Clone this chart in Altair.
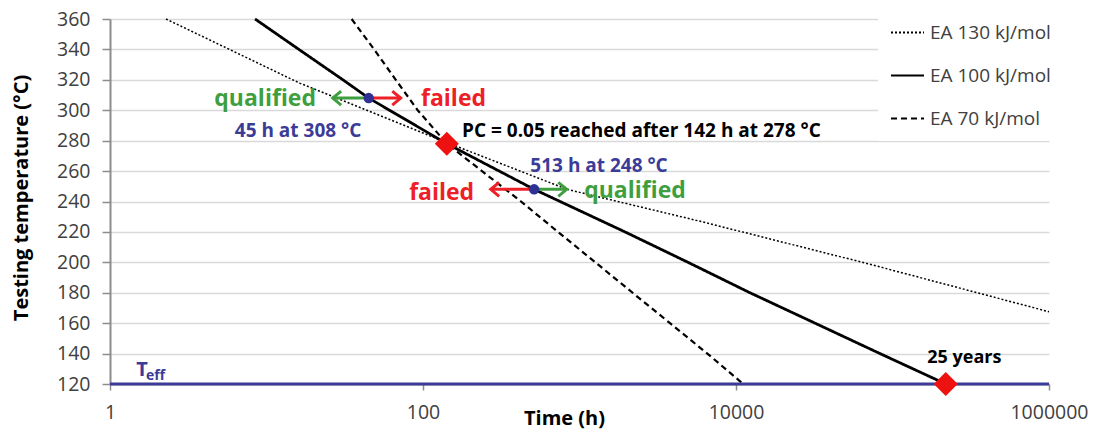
import altair as alt
import pandas as pd

FONT = "Open Sans"

# ---------------- data ----------------
series_names = ["EA 130 kJ/mol", "EA 100 kJ/mol", "EA 70 kJ/mol"]

ea130_hours = [2.28, 16.4, 140, 833, 5900, 68400, 1000000]
ea130_temp = [360, 317.7, 279, 248, 227, 199.3, 167.5]

ea100_hours = [8.45, 16.1, 30.8, 45, 142, 513, 1954, 4936, 12280, 31990, 83200, 219000]
ea100_temp = [360, 340, 320, 308, 278, 248, 220, 200, 180, 160, 140, 120]

ea70_hours = [35, 48.7, 67, 92.5, 142, 423, 729, 1262, 2184, 3786, 6560, 11130]
ea70_temp = [360, 340, 320, 300, 278, 240, 220, 200, 180, 160, 140, 120]

x_ticks = [1, 100, 10000, 1000000]
y_ticks = [120, 140, 160, 180, 200, 220, 240, 260, 280, 300, 320, 340, 360]

test_hours = [45, 513]
test_temp = [308, 248]

marker_hours = [142, 219000]
marker_temp = [278, 120]

teff_temp = [120]
teff_span = [1, 1000000]

arrow_from = [45, 45, 513, 513]
arrow_to = [26.5, 72, 271, 828]
arrow_temp = [308, 308, 248, 248]
arrow_dir = ["left", "right", "left", "right"]

ann_text = ["qualified", "failed", "45 h at 308 °C", "513 h at 248 °C",
            "failed", "qualified", "25 years", "T", "eff"]
ann_hours = [9.8, 156.7, 15.9, 1333, 131.6, 2263, 288000, 1.60, 1.953]
ann_temp = [307.5, 307.5, 286.2, 263.3, 245.6, 246.6, 137.4, 129.4, 125.4]

pc_text = ["PC = 0.05 reached after 142 h at 278 °C"]
pc_hours = [177.5]
pc_temp = [286.2]

# ---------------- styles ----------------
GREEN = "#3f9f3f"
RED = "#ee2027"
BLUE = "#3b3b98"
DOT_BLUE = "#2e3192"
series_width = [1.5, 2.8, 2.2]
series_dash = [[2, 2], [1, 0], [6, 4]]
arrow_colors = [GREEN, RED, RED, GREEN]
ann_colors = [GREEN, RED, BLUE, BLUE, RED, GREEN, "black", BLUE, BLUE]
ann_sizes = [23, 23, 19, 19, 23, 23, 18, 20, 14]

# ---------------- tables ----------------
rows = []
for name, hs, ts, w in zip(series_names,
                           [ea130_hours, ea100_hours, ea70_hours],
                           [ea130_temp, ea100_temp, ea70_temp],
                           series_width):
    for h, t in zip(hs, ts):
        rows.append({"series": name, "hours": h, "temp": t, "w": w})
line_df = pd.DataFrame(rows)

dots_df = pd.DataFrame({"hours": test_hours, "temp": test_temp})
diam_df = pd.DataFrame({"hours": marker_hours, "temp": marker_temp})
teff_df = pd.DataFrame({"hours": [teff_span[0]], "hours_end": [teff_span[1]], "temp": teff_temp})
arrow_df = pd.DataFrame({"hours": arrow_from, "hours_end": arrow_to, "temp": arrow_temp,
                         "dir": arrow_dir, "col": arrow_colors})
head_df = arrow_df.assign(hours=arrow_df["hours_end"])
ann_df = pd.DataFrame({"hours": ann_hours, "temp": ann_temp, "label": ann_text,
                       "col": ann_colors, "fs": ann_sizes})
pc_df = pd.DataFrame({"hours": pc_hours, "temp": pc_temp, "label": pc_text})

# ---------------- scales / axes ----------------
x_scale = alt.Scale(type="log", domain=[1, 1000000], nice=False)
y_scale = alt.Scale(domain=[120, 360], nice=False, zero=False)

x_axis = alt.Axis(values=x_ticks, format="d", title="Time (h)", grid=False,
                  tickCount=len(x_ticks) + 2,
                  domainColor="#8c8c8c", domainWidth=1.5, tickColor="#8c8c8c",
                  tickSize=6, tickWidth=1.5, labelFlush=False, labelOverlap=False,
                  labelFont=FONT, labelFontSize=19.5, labelColor="#404040",
                  labelPadding=13, titleFont=FONT, titleFontSize=20,
                  titleFontWeight="bold", titleColor="black",
                  titleX=454, titleY=40, titleBaseline="alphabetic")
y_axis = alt.Axis(values=y_ticks, title="Testing temperature (°C)", grid=True,
                  tickCount=len(y_ticks) + 2,
                  gridColor="#d9d9d9", gridWidth=1.5,
                  domainColor="#8c8c8c", domainWidth=2, tickColor="#8c8c8c",
                  tickSize=8, tickWidth=1.5, labelFlush=False, labelOverlap=False,
                  labelFont=FONT, labelFontSize=19.5, labelColor="#404040",
                  labelPadding=12, titleFont=FONT, titleFontSize=20,
                  titleFontWeight="bold", titleColor="black",
                  titleX=-83, titleY=178.5, titleBaseline="alphabetic",
                  titleAngle=270)

X = alt.X("hours:Q", scale=x_scale, axis=x_axis)
Y = alt.Y("temp:Q", scale=y_scale, axis=y_axis)

lines = alt.Chart(line_df).mark_line(color="black").encode(
    x=X, y=Y,
    strokeDash=alt.StrokeDash(
        "series:N",
        scale=alt.Scale(domain=series_names, range=series_dash),
        legend=alt.Legend(title=None, orient="none", legendX=768, legendY=-16,
                          symbolType="stroke", symbolSize=1089,
                          symbolStrokeWidth=2, symbolStrokeColor="black",
                          labelFont=FONT, labelFontSize=19, labelColor="#404040",
                          labelOffset=5, rowPadding=15, padding=12,
                          fillColor="white")),
    strokeWidth=alt.StrokeWidth("w:Q", scale=None),
)

teff = alt.Chart(teff_df).mark_rule(color=BLUE, strokeWidth=3).encode(
    x="hours:Q", x2="hours_end:Q", y="temp:Q")

arrows = alt.Chart(arrow_df).mark_rule(strokeWidth=3).encode(
    x="hours:Q", x2="hours_end:Q", y="temp:Q",
    color=alt.Color("col:N", scale=None))

LEFT_HEAD = "M1.2,-1L0,0L1.2,1"
RIGHT_HEAD = "M-1.2,-1L0,0L-1.2,1"
heads_left = alt.Chart(head_df).transform_filter(alt.datum.dir == "left").mark_point(
    shape=LEFT_HEAD, filled=False, size=196, strokeWidth=3, opacity=1).encode(
    x="hours:Q", y="temp:Q", color=alt.Color("col:N", scale=None))
heads_right = alt.Chart(head_df).transform_filter(alt.datum.dir == "right").mark_point(
    shape=RIGHT_HEAD, filled=False, size=196, strokeWidth=3, opacity=1).encode(
    x="hours:Q", y="temp:Q", color=alt.Color("col:N", scale=None))

dots = alt.Chart(dots_df).mark_circle(size=110, color=DOT_BLUE, opacity=1).encode(
    x="hours:Q", y="temp:Q")
diamonds = alt.Chart(diam_df).mark_point(shape="diamond", filled=True, size=576,
                                         color="#ee1111", opacity=1).encode(
    x="hours:Q", y="temp:Q")

texts = alt.Chart(ann_df).mark_text(font=FONT, fontWeight="bold", baseline="middle",
                                    align="center").encode(
    x="hours:Q", y="temp:Q", text="label:N",
    color=alt.Color("col:N", scale=None), size=alt.Size("fs:Q", scale=None))

pc = alt.Chart(pc_df).mark_text(font=FONT, fontWeight="bold", baseline="middle",
                                align="left", fontSize=19, color="black").encode(
    x="hours:Q", y="temp:Q", text="label:N")

chart = alt.layer(lines, teff, arrows, heads_left, heads_right, dots, diamonds,
                  texts, pc).properties(
    width=939, height=365,
    autosize=alt.AutoSizeParams(type="none"),
    padding={"left": 102, "top": 11, "right": 44, "bottom": 46},
).configure_view(stroke=None)

chart.save("out.html", embed_options={"renderer": "svg", "actions": False})
